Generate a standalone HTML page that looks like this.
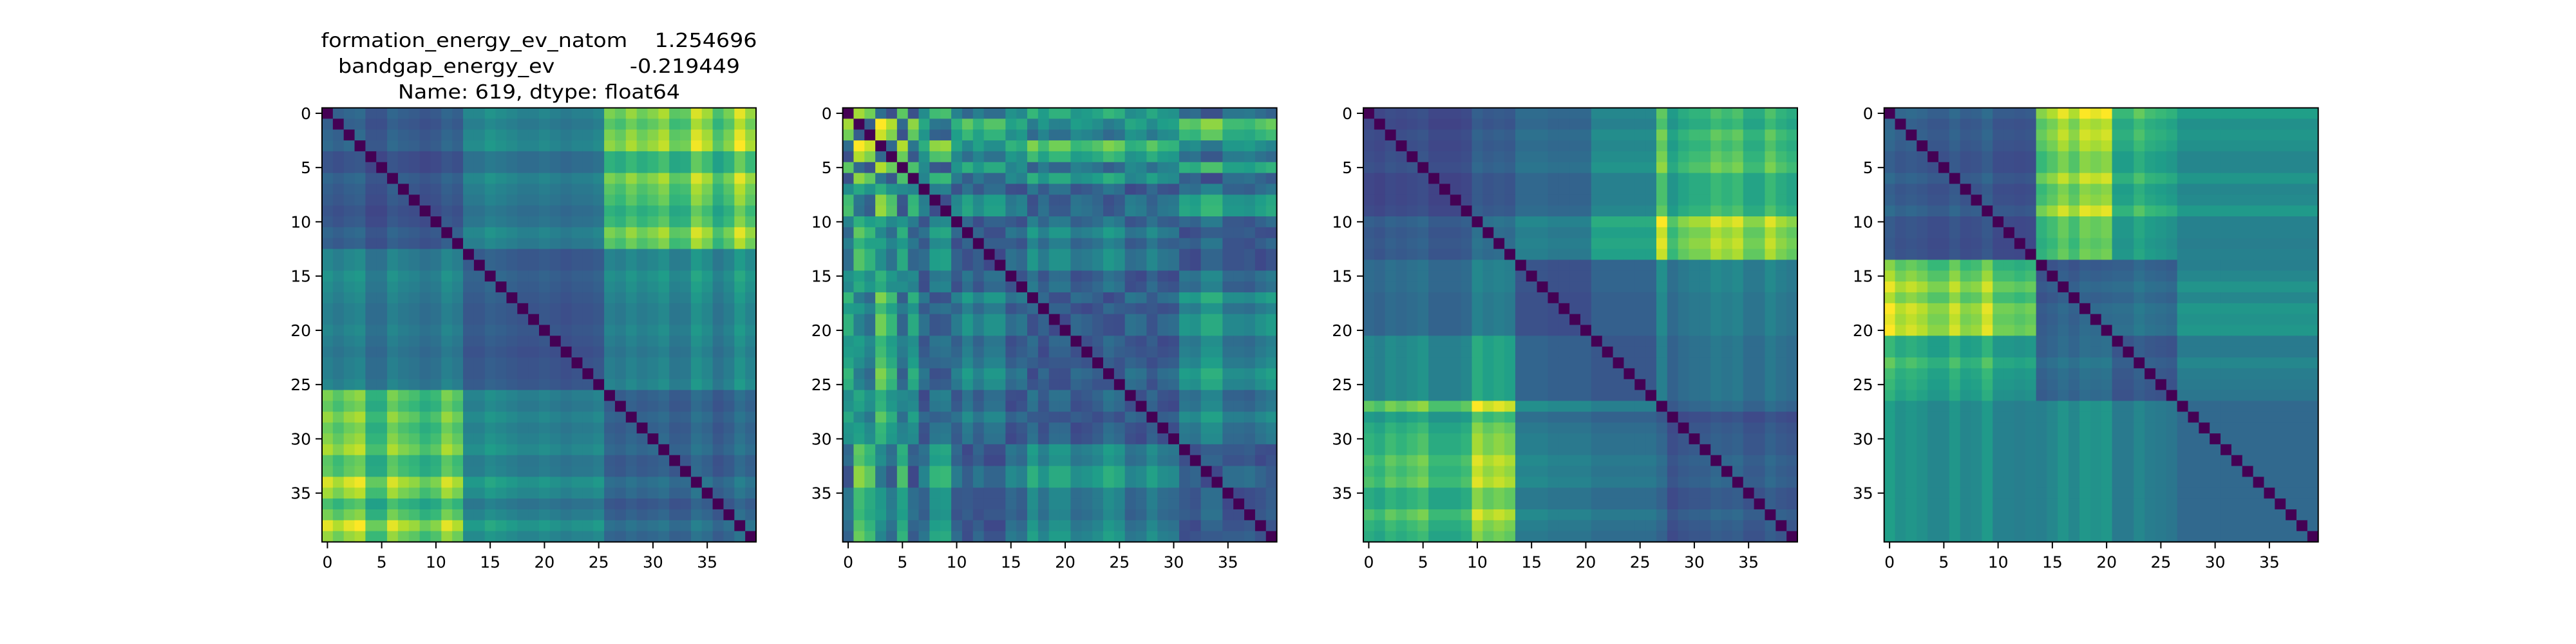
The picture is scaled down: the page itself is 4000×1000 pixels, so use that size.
<!DOCTYPE html>
<html>
<head>
<meta charset="utf-8">
<style>
  html, body { margin: 0; padding: 0; background: #ffffff; }
  svg { display: block; }
  text { font-family: "DejaVu Sans", "Liberation Sans", sans-serif; fill: #000; }
</style>
</head>
<body>
<svg id="fig" width="4000" height="1000" viewBox="0 0 4000 1000" xmlns="http://www.w3.org/2000/svg">
  <rect x="0" y="0" width="4000" height="1000" fill="#ffffff"></rect>
  <g id="title">
    <text x="837" y="73" font-size="30" text-anchor="middle" xml:space="preserve" textLength="677" lengthAdjust="spacingAndGlyphs">formation_energy_ev_natom    1.254696</text>
    <text x="837" y="113" font-size="30" text-anchor="middle" xml:space="preserve" textLength="624" lengthAdjust="spacingAndGlyphs">bandgap_energy_ev           -0.219449</text>
    <text x="837" y="153" font-size="30" text-anchor="middle" xml:space="preserve" textLength="438" lengthAdjust="spacingAndGlyphs">Name: 619, dtype: float64</text>
  </g>
</svg>
<script>
// ---- data: per-panel group labels, per-index weights, block levels ----
const groups1 = [0,0,0,0,0,0,0,0,0,0,0,0,0, 1,1,1,1,1,1,1,1,1,1,1,1,1, 2,2,2,2,2,2,2,2,2,2,2,2,2,2];
const weights1 = [1.0,0.92,1.0,1.04,0.8,0.8,1.0,0.92,0.88,0.8,0.85,1.0,0.92,
  0.9,0.9,1.0,0.95,0.9,0.85,0.85,0.9,0.85,0.8,0.85,0.85,0.9,
  0.93,0.88,0.98,0.9,0.95,1.02,0.86,0.88,1.1,1.0,0.82,0.92,1.12,0.98];
const blocks1 = [[0.27,0.42,0.70],[0.42,0.29,0.44],[0.70,0.44,0.29]];

const positions2 = [0.18,1.0,0.9,0.0,0.15,0.85,0.22,0.52,0.78,0.8,
  0.47,0.32,0.45,0.35,0.35,0.55,0.5,0.75,0.6,0.72,
  0.72,0.57,0.6,0.65,0.75,0.7,0.52,0.55,0.67,0.57,
  0.55,0.32,0.35,0.22,0.22,0.4,0.4,0.42,0.35,0.3];

const groups3 = [0,0,0,0,0,0,0,0,0,0,0,0,0,0, 1,1,1,1,1,1,1, 2,2,2,2,2,2, 3,3,3,3,3,3,3,3,3,3,3,3,3];
const weights3 = [0.9,0.85,0.95,0.9,0.95,1.0,0.85,0.85,0.85,0.9,1.2,1.1,1.15,1.1,
  0.95,0.95,0.95,0.9,0.9,0.9,0.9,
  0.95,0.95,0.95,0.95,0.95,0.95,
  1.1,0.8,0.9,0.95,0.95,1.05,1.0,1.05,0.9,0.9,1.05,0.95,0.9];
const blocks3 = [[0.26,0.38,0.50,0.70],[0.38,0.27,0.33,0.44],[0.50,0.33,0.28,0.38],[0.70,0.44,0.38,0.29]];

const groups4 = [0,0,0,0,0,0,0,0,0,0,0,0,0,0, 1,1,1,1,1,1,1, 2,2,2,2,2,2, 3,3,3,3,3,3,3,3,3,3,3,3,3];
const weights4 = [1.12,1.0,1.05,1.0,0.92,0.92,1.05,0.92,0.95,1.08,0.88,0.88,0.85,0.88,
  0.88,0.95,1.05,0.95,1.08,1.04,1.08,
  0.92,0.92,1.04,0.95,0.92,0.88,
  1.0,1.0,1.0,1.0,1.0,1.0,1.0,1.0,1.0,1.0,1.0,1.0,1.0];
const blocks4 = [[0.27,0.76,0.60,0.46],[0.76,0.28,0.34,0.45],[0.60,0.34,0.29,0.41],[0.46,0.45,0.41,0.31]];

const tickValues = [0,5,10,15,20,25,30,35];
const tickLabels = ["0","5","10","15","20","25","30","35"];
const panelLefts = [500, 1308.6, 2117, 2925.7];

const N = 40;
const TOP = 167.5, SIZE = 674;
const NS = "http://www.w3.org/2000/svg";
const svg = document.getElementById('fig');

const VIR = [[68,1,84],[72,40,120],[62,73,137],[49,104,142],[38,130,142],[31,158,137],[53,183,121],[110,206,88],[181,222,43],[253,231,37]];
function viridis(t){
  t = Math.max(0, Math.min(1, t));
  const p = t * (VIR.length - 1);
  const i = Math.min(VIR.length - 2, Math.floor(p));
  const f = p - i;
  const c = VIR[i].map((v,k)=>Math.round(v + (VIR[i+1][k]-v)*f));
  return 'rgb(' + c.join(',') + ')';
}

function blockMatrix(groups, weights, blocks){
  const m = [];
  for (let i=0;i<N;i++){ m.push([]); for (let j=0;j<N;j++){
    m[i].push(i===j ? 0 : blocks[groups[i]][groups[j]] * weights[i] * weights[j]);
  }}
  return m;
}
function lineMatrix(pos){
  const m = [];
  for (let i=0;i<N;i++){ m.push([]); for (let j=0;j<N;j++){
    m[i].push(i===j ? 0 : 0.22 + 0.78*Math.abs(pos[i]-pos[j]));
  }}
  return m;
}

const matrices = [
  blockMatrix(groups1, weights1, blocks1),
  lineMatrix(positions2),
  blockMatrix(groups3, weights3, blocks3),
  blockMatrix(groups4, weights4, blocks4)
];

function mk(tag, attrs){
  const e = document.createElementNS(NS, tag);
  for (const k in attrs) e.setAttribute(k, attrs[k]);
  return e;
}

matrices.forEach((m, p) => {
  const left = panelLefts[p];
  const cell = SIZE / N;
  const xs = v => left + (v + 0.5) * cell;
  const ys = v => TOP + (v + 0.5) * cell;
  let mn = Infinity, mx = -Infinity;
  m.forEach(r => r.forEach(v => { mn = Math.min(mn, v); mx = Math.max(mx, v); }));
  const g = mk('g', {});
  
  
  svg.appendChild(g);
  for (let i=0;i<N;i++) for (let j=0;j<N;j++){
    const r = mk('rect', {x: (xs(j)-cell/2).toFixed(2), y: (ys(i)-cell/2).toFixed(2), width: (cell+0.6).toFixed(2), height: (cell+0.6).toFixed(2), fill: viridis((m[i][j]-mn)/(mx-mn))});
    
    
    g.appendChild(r);
  }
  const frame = mk('rect', {x: left, y: TOP, width: SIZE, height: SIZE, fill: 'none', stroke: '#000', 'stroke-width': 2});
  
  
  g.appendChild(frame);
  tickValues.forEach((t, k) => {
    const xt = mk('line', {x1: xs(t), x2: xs(t), y1: TOP+SIZE, y2: TOP+SIZE+10, stroke: '#000', 'stroke-width': 2});
    
    
    g.appendChild(xt);
    const xl = mk('text', {x: xs(t), y: TOP+SIZE+40, 'font-size': 25, 'text-anchor': 'middle'});
    xl.textContent = tickLabels[k];
    
    
    g.appendChild(xl);
    const yt = mk('line', {x1: left-10, x2: left, y1: ys(t), y2: ys(t), stroke: '#000', 'stroke-width': 2});
    
    
    g.appendChild(yt);
    const yl = mk('text', {x: left-17, y: ys(t)+9, 'font-size': 25, 'text-anchor': 'end'});
    yl.textContent = tickLabels[k];
    
    
    g.appendChild(yl);
  });
});
</script>
</body>
</html>
